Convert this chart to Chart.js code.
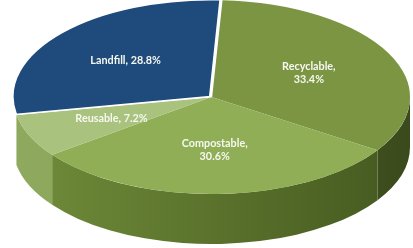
<!DOCTYPE html>
<html><head><meta charset="utf-8">
<script src="https://cdn.jsdelivr.net/npm/chart.js@4.4.0/dist/chart.umd.min.js"></script>
<style>html,body{margin:0;padding:0;background:#fff;overflow:hidden}#wrap{width:413px;height:248px;position:relative}</style>
</head><body><div id="wrap"><canvas id="c" width="413" height="248"></canvas></div>
<script>
// ---- data ----
const categories = ['Recyclable', 'Compostable', 'Reusable', 'Landfill'];
const shares = [33.4, 30.6, 7.2, 28.8];
const wrapLabel = [true, true, false, false];
// ---- style ----
const topColors = ['#7b9543', '#8fae56', '#a9c27d', '#1f4a7c'];
const sideLeftColors = ['#5e7630', '#718d3a', '#8fa95f', '#17385e'];
const sideRightColors = ['#3b4a1c', '#44581f', '#7d9850', '#17385e'];
const explode = [0, 0, 0, 3];
const borderW = [0, 0, 0, 2];

const G = { cx: 211.5, cy: 97, rx: 198.5, ry: 97, depth: 50, labelR: 0.55 };

function ellipseMap(arc) {
  const R = arc.outerRadius;
  return { R, sx: G.rx / R, sy: G.ry / R };
}

const pie3d = {
  id: 'pie3d',
  beforeDatasetsDraw(chart) {
    const ctx = chart.ctx;
    const arcs = chart.getDatasetMeta(0).data;
    const m = ellipseMap(arcs[0]);
    // sides (exploded slice sits at the back, its side is hidden)
    arcs.forEach((arc, i) => {
      const off = arc.options.offset || 0;
      if (off > 0) return;
      let s = arc.startAngle, e = arc.endAngle;
      while (s < -Math.PI / 2) { s += 2 * Math.PI; e += 2 * Math.PI; }
      while (s >= 1.5 * Math.PI) { s -= 2 * Math.PI; e -= 2 * Math.PI; }
      const vs = Math.max(s, 0), ve = Math.min(e, Math.PI);
      if (ve <= vs) return;
      const g = ctx.createLinearGradient(G.cx - G.rx, 0, G.cx + G.rx, 0);
      g.addColorStop(0, sideLeftColors[i]);
      g.addColorStop(1, sideRightColors[i]);
      ctx.save();
      ctx.beginPath();
      ctx.ellipse(G.cx, G.cy, G.rx, G.ry, 0, vs, ve);
      ctx.ellipse(G.cx, G.cy + G.depth, G.rx, G.ry, 0, ve, vs, true);
      ctx.closePath();
      ctx.fillStyle = g;
      ctx.fill();
      ctx.restore();
    });
    // tops
    ctx.save();
    ctx.translate(G.cx, G.cy);
    ctx.scale(m.sx, m.sy);
    ctx.translate(-arcs[0].x, -arcs[0].y);
    arcs.forEach(arc => arc.draw(ctx));
    ctx.restore();
    return false;
  },
  afterDraw(chart) {
    const ctx = chart.ctx;
    const arcs = chart.getDatasetMeta(0).data;
    const m = ellipseMap(arcs[0]);
    ctx.save();
    ctx.fillStyle = '#f6f8f0';
    ctx.font = 'bold 10.8px Lato';
    ctx.textAlign = 'center';
    ctx.textBaseline = 'middle';
    arcs.forEach((arc, i) => {
      const mid = (arc.startAngle + arc.endAngle) / 2;
      const off = arc.options.offset || 0;
      const x = G.cx + Math.cos(mid) * (G.rx * G.labelR + off * m.sx);
      const y = G.cy + Math.sin(mid) * (G.ry * G.labelR + off * m.sy);
      const name = categories[i] + ',';
      const val = shares[i].toFixed(1) + '%';
      if (wrapLabel[i]) {
        ctx.fillText(name, x, y - 6.5);
        ctx.fillText(val, x, y + 6.5);
      } else {
        ctx.fillText(name + ' ' + val, x, y);
      }
    });
    ctx.restore();
  }
};

new Chart(document.getElementById('c'), {
  type: 'pie',
  data: {
    labels: categories,
    datasets: [{
      data: shares,
      backgroundColor: topColors,
      borderColor: '#ffffff',
      borderWidth: borderW,
      offset: explode,
      hoverOffset: 0
    }]
  },
  options: {
    responsive: false,
    animation: false,
    events: [],
    rotation: 3,
    layout: { padding: 0 },
    plugins: { legend: { display: false }, tooltip: { enabled: false } }
  },
  plugins: [pie3d]
});
</script>
</body></html>
